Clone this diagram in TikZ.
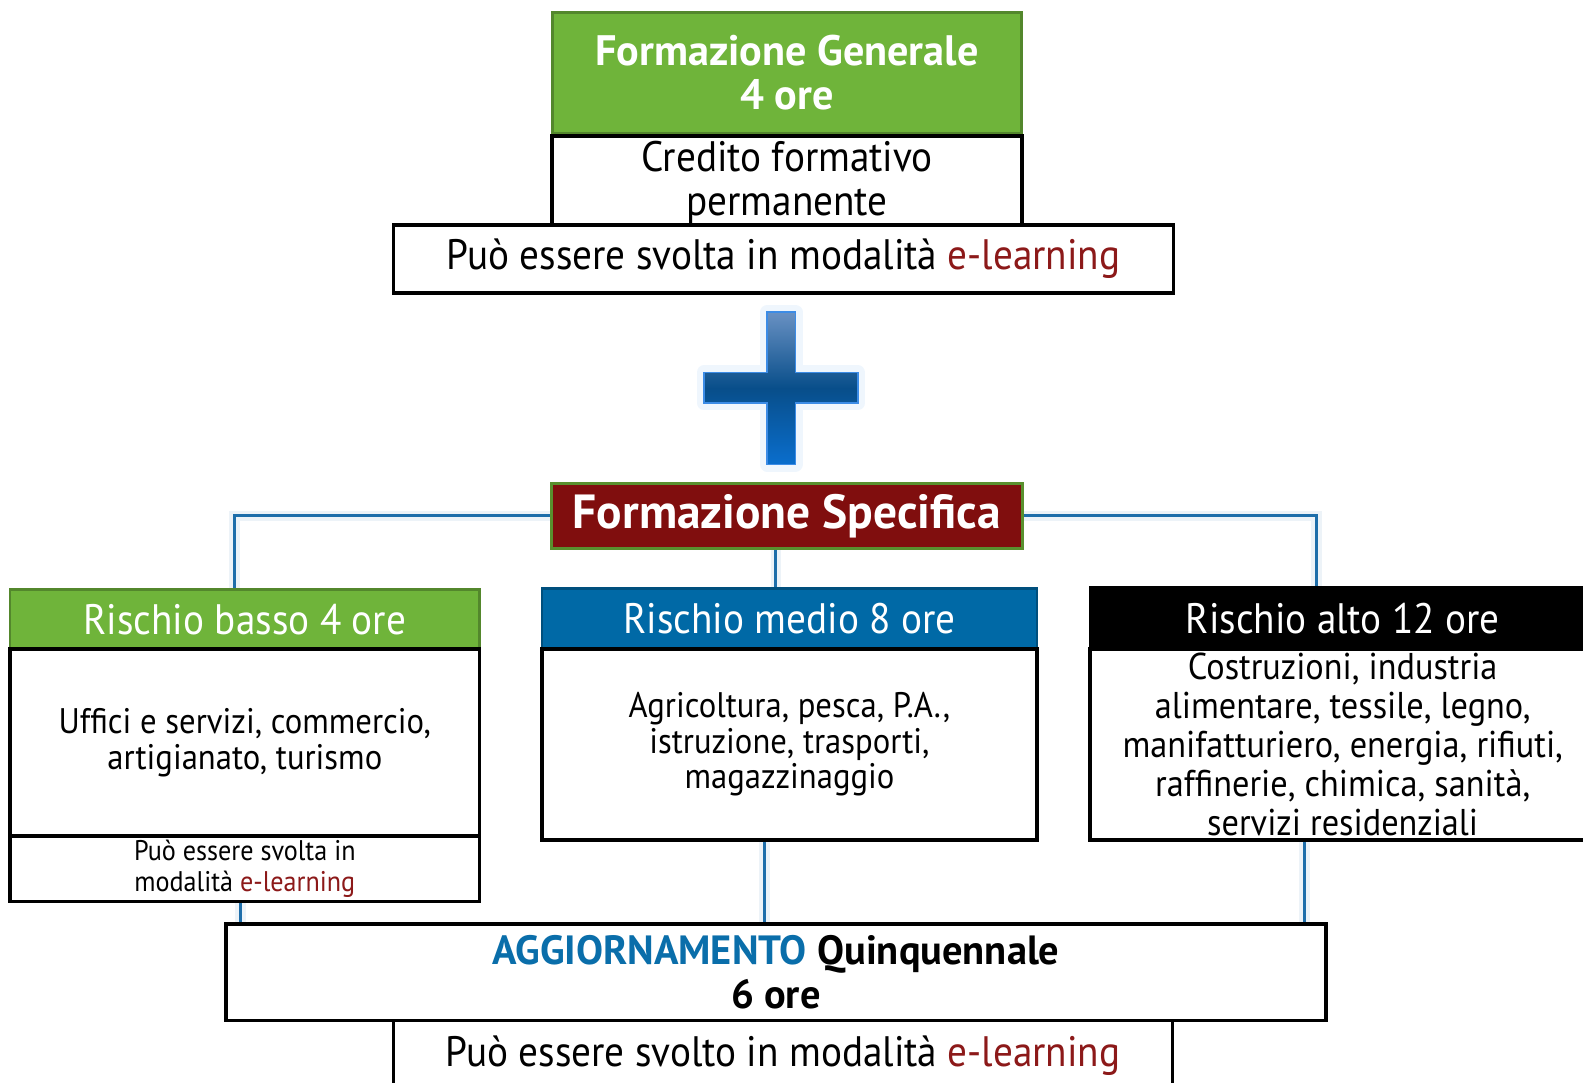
\documentclass[tikz,border=0pt]{standalone}
\usepackage{fontspec}
\setmainfont{PT Sans}[FakeStretch=0.92, BoldFeatures={FakeStretch=0.99}]
\usepackage{tikz}
\usetikzlibrary{positioning,calc,backgrounds}
\definecolor{verde}{RGB}{111,180,58}
\definecolor{rosso}{RGB}{128,14,14}
\definecolor{blu}{RGB}{0,105,166}
\definecolor{linea}{RGB}{30,110,170}
\definecolor{elearn}{RGB}{140,25,25}
\definecolor{aggblu}{RGB}{10,110,170}
\definecolor{plustop}{RGB}{105,145,195}
\definecolor{plusmid}{RGB}{8,78,138}
\definecolor{plusbot}{RGB}{10,110,205}
\definecolor{plusedge}{RGB}{60,140,230}

\begin{document}
\begin{tikzpicture}[x=0.01cm, y=-0.01cm,
    box/.style={draw=black, line width=1pt, fill=white, inner sep=0pt, align=center, font=\fontsize{12}{12.3}\selectfont},
    head/.style={draw=#1!75!black, fill=#1, line width=0.8pt, inner sep=0pt, text=white, align=center, font=\fontsize{12}{12.3}\selectfont},
    conn/.style={draw=linea, line width=0.9pt, preaction={draw=linea!8, line width=3pt}}]
    \useasboundingbox (0,0) rectangle (1568,1072);

    \node[head=verde, minimum width=4.65cm, minimum height=1.2cm, font=\bfseries\fontsize{12}{12.3}\selectfont] (gen) at (779.5,72) {Formazione Generale\\4 ore};
    \node[box, minimum width=4.65cm, minimum height=0.93cm] (cred) at (779.5,181) {Credito formativo\\permanente};
    \node[box, minimum width=7.72cm, minimum height=0.67cm] (genel) at (776,256.5) {Può essere svolta in modalità \textcolor{elearn}{e-learning}};

    \shade[top color=plustop, bottom color=plusbot, middle color=plusmid, draw=plusedge, line width=0.5pt,
        preaction={draw=plusedge!8, line width=4pt, line join=round}]
        (760,309) -- (788,309) -- (788,369) -- (850,369) -- (850,399) -- (788,399) -- (788,460)
        -- (760,460) -- (760,399) -- (697,399) -- (697,369) -- (760,369) -- cycle;

    \node[head=rosso, draw=verde!80!black, minimum width=4.67cm, minimum height=0.64cm, font=\bfseries\fontsize{13.5}{14}\selectfont] (spec) at (779.5,511) {Formazione Specifica};

    \node[head=verde, minimum width=4.65cm, minimum height=0.59cm] (bassoh) at (242.5,613.5) {Rischio basso 4 ore};
    \node[box, minimum width=4.65cm, minimum height=1.85cm, font=\fontsize{10}{10}\selectfont] (basso) at (242.5,735.5) {Uffici e servizi, commercio,\\artigianato, turismo};
    \node[box, minimum width=4.65cm, minimum height=0.65cm, font=\fontsize{8}{8.5}\selectfont] (bassoel) at (242.5,860.5) {Può essere svolta in\\modalità \textcolor{elearn}{e-learning}};

    \node[head=blu, minimum width=4.9cm, minimum height=0.6cm] (medioh) at (782,613) {Rischio medio 8 ore};
    \node[box, minimum width=4.9cm, minimum height=1.89cm, font=\fontsize{10}{10}\selectfont] (medio) at (782,737.5) {Agricoltura, pesca, P.A.,\\istruzione, trasporti,\\magazzinaggio};

    \node[head=black, draw=black, minimum width=5cm, minimum height=0.61cm] (altoh) at (1330,612.5) {Rischio alto 12 ore};
    \node[box, minimum width=5cm, minimum height=1.89cm, font=\fontsize{10.5}{11}\selectfont] (alto) at (1330,737.5) {Costruzioni, industria\\alimentare, tessile, legno,\\manifatturiero, energia, rifiuti,\\raffinerie, chimica, sanità,\\servizi residenziali};

    \node[box, minimum width=10.89cm, minimum height=0.96cm, font=\bfseries\fontsize{11.5}{12.5}\selectfont] (agg) at (768.5,963) {\textcolor{aggblu}{AGGIORNAMENTO} Quinquennale\\6 ore};
    \node[box, minimum width=7.71cm, minimum height=0.69cm] (aggel) at (775.5,1045.5) {Può essere svolto in modalità \textcolor{elearn}{e-learning}};

    \coordinate (s1) at ([xshift=-0.11cm]spec.south);
    \coordinate (b1) at ([xshift=-0.105cm]bassoh.north);
    \coordinate (a1) at ([xshift=-0.26cm]altoh.north);
    \coordinate (b2) at ([xshift=-0.045cm]bassoel.south);
    \coordinate (m2) at ([xshift=-0.25cm]medio.south);
    \coordinate (a2) at ([xshift=-0.38cm]alto.south);

    \begin{scope}[on background layer]
        \draw[conn] (spec.west) -| (b1);
        \draw[conn] (spec.east) -| (a1);
        \draw[conn] (s1) -- (s1 |- medioh.north);
        \draw[conn] (b2) -- (b2 |- agg.north);
        \draw[conn] (m2) -- (m2 |- agg.north);
        \draw[conn] (a2) -- (a2 |- agg.north);
    \end{scope}
\end{tikzpicture}
\end{document}
